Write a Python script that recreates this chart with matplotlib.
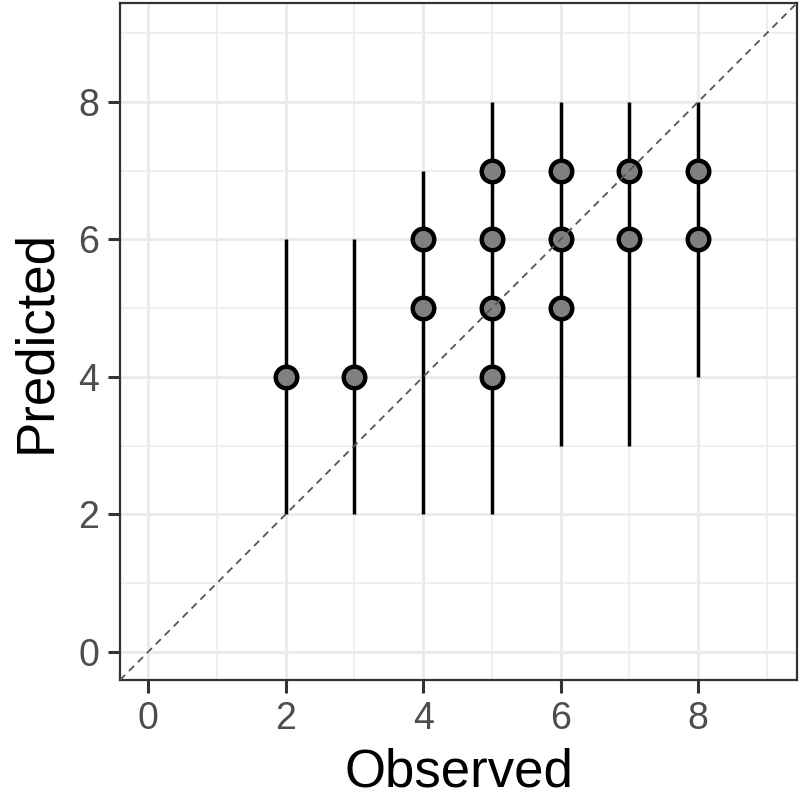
import matplotlib
matplotlib.use("Agg")
import matplotlib.pyplot as plt
from matplotlib.ticker import MultipleLocator

# Error bar ranges per observed value
bar_x = [2, 3, 4, 5, 6, 7, 8]
bar_lo = [2, 2, 2, 2, 3, 3, 4]
bar_hi = [6, 6, 7, 8, 8, 8, 8]

# Points (observed, predicted)
pt_x = [2, 3, 4, 4, 5, 5, 5, 5, 6, 6, 6, 7, 7, 8, 8]
pt_y = [4, 4, 5, 6, 4, 5, 6, 7, 5, 6, 7, 6, 7, 6, 7]

ticks = [0, 2, 4, 6, 8]
lim = (-0.41, 9.44)

plt.rcParams['font.family'] = ['Liberation Sans', 'DejaVu Sans']
fig = plt.figure(figsize=(8, 8.05), dpi=100)
ax = fig.add_axes([120/800, 1 - 680/805, 677/800, 677/805])

ax.set_xlim(*lim)
ax.set_ylim(*lim)
ax.xaxis.set_minor_locator(MultipleLocator(1))
ax.yaxis.set_minor_locator(MultipleLocator(1))
ax.set_xticks(ticks)
ax.set_yticks(ticks)
ax.grid(which='major', color='#EBEBEB', linewidth=2.2)
ax.grid(which='minor', color='#EBEBEB', linewidth=1.1)
ax.tick_params(which='minor', length=0)
ax.tick_params(which='major', length=9, width=2.2, color='#333333',
               labelsize=27, labelcolor='#4D4D4D', pad=6)
ax.set_axisbelow(True)
for s in ax.spines.values():
    s.set_color('#333333')
    s.set_linewidth(1.6)

ax.vlines(bar_x, bar_lo, bar_hi, colors='black', linewidth=2.5, zorder=2)
ax.plot(pt_x, pt_y, 'o', markersize=15.5, markerfacecolor='#808080',
        markeredgecolor='black', markeredgewidth=3.2, zorder=3)
ax.plot(lim, lim, '--', color='#555555', linewidth=1.3, dashes=(4, 3), zorder=4)

ax.set_xlabel('Observed', fontsize=38, labelpad=8)
ax.set_ylabel('Predicted', fontsize=38, labelpad=12)

fig.savefig('out.png', dpi=100)
